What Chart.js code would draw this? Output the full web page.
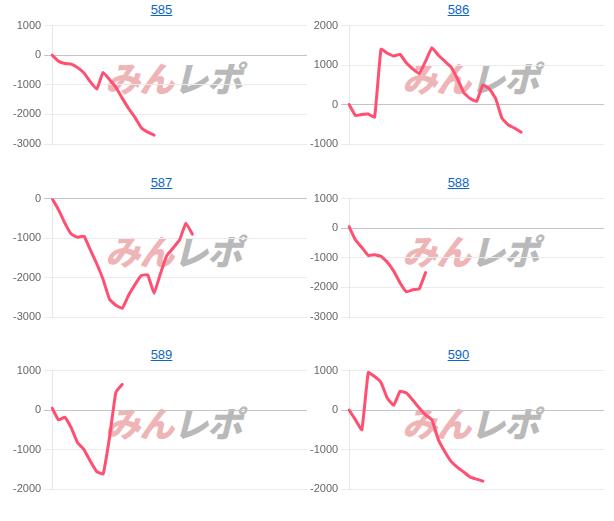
<!DOCTYPE html>
<html>
<head>
<meta charset="utf-8">
<script src="https://cdn.jsdelivr.net/npm/chart.js@4/dist/chart.umd.min.js"></script>
<style>
  body { margin: 0; background: #fff; font-family: Arial, "Liberation Sans", sans-serif; }
  .cell { position: absolute; width: 297px; height: 172px; }
  .title { height: 20px; line-height: 20px; text-align: center; font-size: 13px; padding-left: 6px; }
  .title a { color: #0b66c8; text-decoration: underline; }
  .box { position: absolute; top: 16px; left: 0; width: 297px; height: 150px; z-index: 1; }
  .mark { position: absolute; left: 92px; top: 60px; width: 150px; height: 34px; line-height: 34px;
          text-align: center; font-family: "Noto Sans CJK JP", sans-serif; font-weight: 900;
          font-size: 35px; letter-spacing: -1px; transform: skewX(-14deg); z-index: 0; white-space: nowrap; }
  .mark .a { color: #efb4b6; }
  .mark .b { color: #b9b9b9; }
</style>
</head>
<body>
<div id="wrap"></div>
<script>
"use strict"

// 41 slots on the x axis, each series only fills the first part
const slots = Array.from({ length: 41 }, (_, i) => i + 1);

const titles = ["585", "586", "587", "588", "589", "590"];

const data585 = [0, -200, -280, -300, -420, -600, -900, -1150, -580, -820, -1080, -1450, -1800, -2100, -2450, -2600, -2700];
const data586 = [0, -280, -250, -240, -320, 1400, 1300, 1230, 1270, 1050, 900, 780, 1100, 1440, 1250, 1100, 950, 650, 300, 150, 80, 500, 400, 150, -350, -520, -600, -700];
const data587 = [0, -280, -620, -900, -980, -950, -1300, -1650, -2050, -2550, -2700, -2780, -2450, -2180, -1950, -1930, -2400, -1900, -1440, -1250, -1050, -620, -900];
const data588 = [50, -400, -650, -920, -900, -950, -1150, -1450, -1850, -2150, -2080, -2050, -1500];
const data589 = [50, -250, -180, -450, -830, -1000, -1300, -1560, -1620, -700, 450, 650];
const data590 = [0, -250, -500, 950, 850, 700, 300, 120, 480, 430, 250, 50, -120, -250, -750, -1050, -1300, -1450, -1570, -1700, -1750, -1800];

const series = [data585, data586, data587, data588, data589, data590];
const yMin = [-3000, -1000, -3000, -3000, -2000, -2000];
const yMax = [1000, 2000, 0, 1000, 1000, 1000];

const cellLeft = [10, 307];
const cellTop = [0, 173, 345];

const wrap = document.getElementById('wrap');

series.forEach((values, i) => {
    const cell = document.createElement('div');
    cell.className = 'cell';
    cell.style.left = cellLeft[i % 2] + 'px';
    cell.style.top = cellTop[Math.floor(i / 2)] + 'px';
    cell.innerHTML =
        '<div class="title"><a href="#">' + titles[i] + '</a></div>' +
        '<div class="mark"><span class="a">みん</span><span class="b">レポ</span></div>' +
        '<div class="box"><canvas></canvas></div>';
    wrap.appendChild(cell);

    new Chart(cell.querySelector('canvas'), {
        type: 'line',
        data: {
            labels: slots,
            datasets: [{
                data: values,
                borderColor: '#ff5071',
                borderWidth: 3,
                pointRadius: 0,
                tension: 0.1,
                fill: false,
                borderJoinStyle: 'round',
                borderCapStyle: 'round'
            }]
        },
        options: {
            responsive: true,
            maintainAspectRatio: false,
            animation: false,
            layout: { padding: { top: 0, bottom: 22, right: 0 } },
            plugins: { legend: { display: false }, tooltip: { enabled: false } },
            scales: {
                x: { display: false },
                y: {
                    min: yMin[i],
                    max: yMax[i],
                    ticks: {
                        stepSize: 1000,
                        color: '#666',
                        padding: 3,
                        font: { family: 'Arial, "Liberation Sans"', size: 11 },
                        callback: v => String(v)
                    },
                    border: { color: '#e6e6e6' },
                    grid: {
                        tickLength: 8,
                        color: ctx => ctx.tick && ctx.tick.value === 0 ? '#c4c4c4' : '#ebebeb'
                    }
                }
            }
        }
    });
});
</script>
</body>
</html>
